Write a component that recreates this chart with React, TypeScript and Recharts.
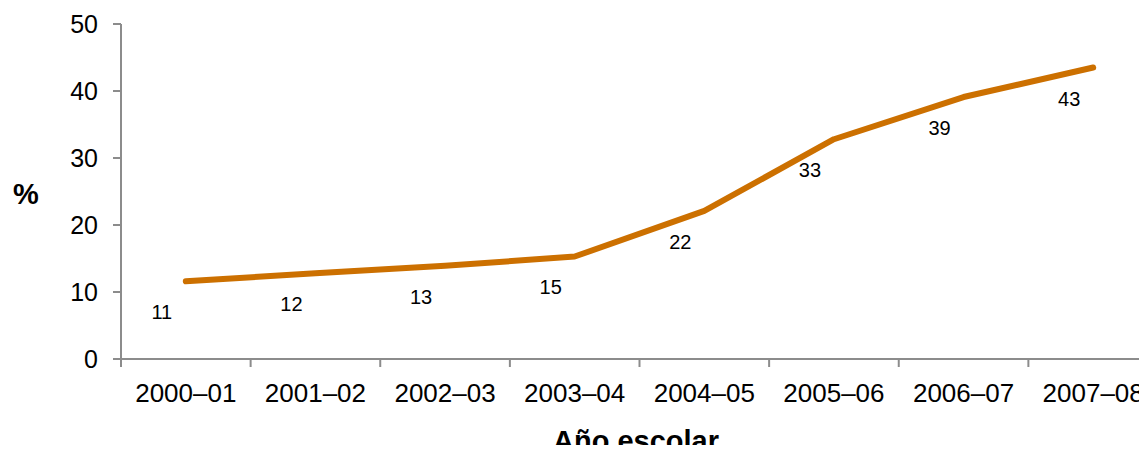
import React from 'react';
import { LabelList, Line, LineChart, XAxis, YAxis } from 'recharts';

const years = ['2000–01', '2001–02', '2002–03', '2003–04', '2004–05', '2005–06', '2006–07', '2007–08'];
const shares = [11.6, 12.8, 13.9, 15.3, 22.1, 32.8, 39.1, 43.5];
const shareLabels = ['11', '12', '13', '15', '22', '33', '39', '43'];
const yTicks = [0, 10, 20, 30, 40, 50];

const data = years.map((year, i) => ({ year, share: shares[i], label: shareLabels[i] }));

const AXIS = '#8c8c8c';
const FONT = 'Arial, "Liberation Sans", sans-serif';

function YearTick(props: any) {
  const { x, y, payload } = props;
  const half = payload.offset ?? 0;
  const axisY = y - 18;
  return (
    <g>
      <line x1={x - half} x2={x - half} y1={axisY} y2={axisY + 8} stroke={AXIS} strokeWidth={2} />
      <text x={x} y={axisY + 43} textAnchor="middle" fontSize={26} fill="#000" fontFamily={FONT}>
        {payload.value}
      </text>
    </g>
  );
}

function ShareLabel(props: any) {
  const { x, y, value } = props;
  return (
    <text x={x - 24} y={y + 38} textAnchor="middle" fontSize={20} fill="#000" fontFamily={FONT}>
      {value}
    </text>
  );
}

export default function App() {
  return (
    <div style={{ margin: -8, width: 1147, height: 453, overflow: 'hidden', background: '#fff' }}>
      <LineChart width={1170} height={453} data={data} margin={{ top: 24, right: 12, left: 0, bottom: 0 }}>
        <XAxis
          dataKey="year"
          scale="band"
          height={94}
          stroke={AXIS}
          strokeWidth={2}
          tickLine={false}
          tickSize={8}
          tickMargin={10}
          interval={0}
          tick={<YearTick />}
          label={{
            value: 'Año escolar',
            content: () => (
              <text x={636} y={451} textAnchor="middle" fontSize={29} fontWeight="bold" fill="#000" fontFamily={FONT}>
                Año escolar
              </text>
            ),
          }}
        />
        <YAxis
          width={121}
          domain={[0, 50]}
          ticks={yTicks}
          interval={0}
          stroke={AXIS}
          strokeWidth={2}
          tickSize={8}
          tickMargin={15}
          tick={{ fontSize: 25, fill: '#000', fontFamily: FONT }}
          label={{
            value: '%',
            content: () => (
              <text x={26} y={204} textAnchor="middle" fontSize={29} fontWeight="bold" fill="#000" fontFamily={FONT}>
                %
              </text>
            ),
          }}
        />
        <Line
          type="linear"
          dataKey="share"
          stroke="#cc7000"
          strokeWidth={6}
          strokeLinecap="round"
          strokeLinejoin="round"
          dot={false}
          activeDot={false}
          isAnimationActive={false}
        >
          <LabelList dataKey="label" content={<ShareLabel />} />
        </Line>
      </LineChart>
    </div>
  );
}
